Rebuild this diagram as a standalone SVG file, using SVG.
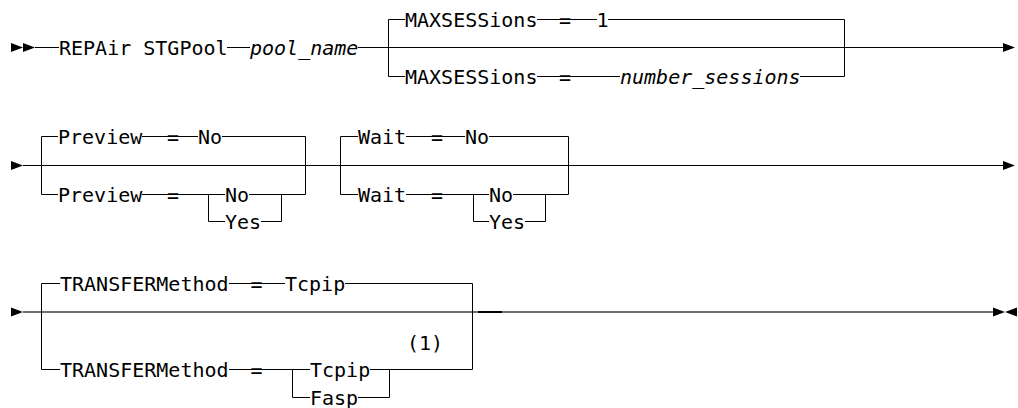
<svg xmlns="http://www.w3.org/2000/svg" width="1018" height="408" viewBox="0 0 1018 408">
<style>
  .t { font-family: "DejaVu Sans Mono", monospace; font-size: 20px; fill: #000; }
  .i { font-style: italic; }
  .m { text-anchor: middle; }
  .ln { fill: none; stroke: #000; stroke-width: 1; }
  .ar { fill: #000; stroke: none; }
</style>
<rect width="1018" height="408" fill="#fff"/>
<g id="connectors">
  <!-- row 1 -->
  <path class="ar" d="M11,43 L23,47.5 L11,52 Z M23,43 L35,47.5 L23,52 Z"/>
  <path class="ln" d="M35 47.5 H59 M227 47.5 H250 M358 47.5 H1003"/>
  <path class="ar" d="M1003,43 L1015,47.5 L1003,52 Z"/>
  <path class="ln" d="M405 19.5 H388.5 V76.5 H405 M537 19.5 H562 M568 19.5 H597 M608 19.5 H844.5 V76.5 H800 M537 76.5 H562 M568 76.5 H620"/>
  <!-- row 2 -->
  <path class="ar" d="M11,161 L23,165.5 L11,170 Z"/>
  <path class="ln" d="M23 165.5 H1003"/>
  <path class="ar" d="M1003,161 L1015,165.5 L1003,170 Z"/>
  <path class="ln" d="M58 136.5 H41.5 V194.5 H58 M142 136.5 H170 M176 136.5 H198 M222 136.5 H305.5 V194.5 H281.5 V221.5 H261 M142 194.5 H170 M176 194.5 H208.5 V221.5 H225 M208.5 194.5 H225 M249 194.5 H281.5"/>
  <path class="ln" d="M358 136.5 H340.5 V194.5 H358 M406 136.5 H434 M440 136.5 H465 M489 136.5 H568.5 V194.5 H545.5 V221.5 H525 M406 194.5 H434 M440 194.5 H473.5 V221.5 H489 M473.5 194.5 H489 M513 194.5 H545.5"/>
  <!-- row 3 -->
  <path class="ar" d="M11,307.5 L23,312 L11,316.5 Z"/>
  <path d="M23 312 H993" fill="none" stroke="#000" stroke-width="1.5" stroke-opacity="0.75"/>
  <path d="M478 312 H502" fill="none" stroke="#000" stroke-width="2"/>
  <path class="ar" d="M993,307.5 L1005,312 L993,316.5 Z M1017,307.5 L1005,312 L1017,316.5 Z"/>
  <path class="ln" d="M60 283.5 H41.5 V369.5 H60 M229 283.5 H253.5 M259.5 283.5 H285 M345 283.5 H472.5 V369.5 H370 M229 369.5 H253.5 M259.5 369.5 H292.5 V397.5 H310 M292.5 369.5 H310 M358 397.5 H389.5 V369.5"/>
</g>
<g id="n-repair"><text class="t" x="59" y="55">REPAir STGPool</text></g>
<g id="n-poolname"><text class="t i" x="250" y="55">pool_name</text></g>
<g id="n-maxsess-default"><text class="t" x="405" y="27">MAXSESSions</text><text class="t m" x="565" y="27">=</text><text class="t m" x="602.5" y="27">1</text></g>
<g id="n-maxsess"><text class="t" x="405" y="84">MAXSESSions</text><text class="t m" x="565" y="84">=</text><text class="t i" x="620" y="84">number_sessions</text></g>
<g id="n-preview-default"><text class="t" x="58" y="144">Preview</text><text class="t m" x="173" y="144">=</text><text class="t" x="198" y="144">No</text></g>
<g id="n-preview"><text class="t" x="58" y="202">Preview</text><text class="t m" x="173" y="202">=</text><text class="t" x="225" y="202">No</text><text class="t" x="225" y="229">Yes</text></g>
<g id="n-wait-default"><text class="t" x="358" y="144">Wait</text><text class="t m" x="437" y="144">=</text><text class="t" x="465" y="144">No</text></g>
<g id="n-wait"><text class="t" x="358" y="202">Wait</text><text class="t m" x="437" y="202">=</text><text class="t" x="489" y="202">No</text><text class="t" x="489" y="229">Yes</text></g>
<g id="n-transfer-default"><text class="t" x="60" y="291">TRANSFERMethod</text><text class="t m" x="256.5" y="291">=</text><text class="t" x="285" y="291">Tcpip</text></g>
<g id="n-transfer"><text class="t" x="60" y="377">TRANSFERMethod</text><text class="t m" x="256.5" y="377">=</text><text class="t" x="310" y="377">Tcpip</text><text class="t" x="310" y="405">Fasp</text><text class="t" x="407" y="350">(1)</text></g>
</svg>
